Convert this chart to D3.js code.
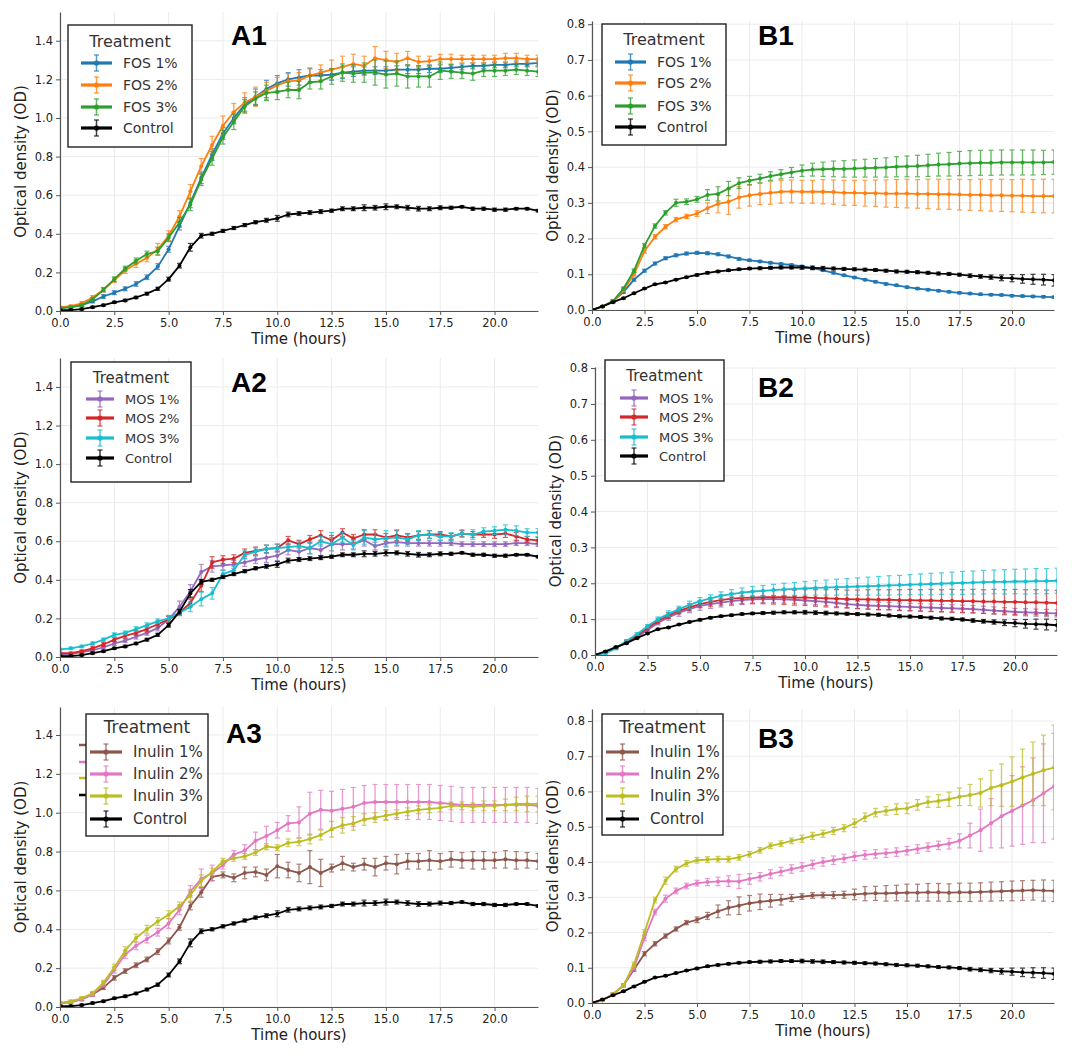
<!DOCTYPE html>
<html>
<head>
<meta charset="utf-8">
<script src="https://cdn.jsdelivr.net/npm/d3@7"></script>
<style>
  body { margin: 0; background: #fff; }
  svg { display: block; }
  text { font-family: "DejaVu Sans", sans-serif; }
</style>
</head>
<body>
<script>
// Growth curves, OD vs time, six panels (A = left column, B = right column)

var hours = [0,0.5,1,1.5,2,2.5,3,3.5,4,4.5,5,5.5,6,6.5,7,7.5,8,8.5,9,9.5,10,10.5,11,11.5,12,12.5,13,13.5,14,14.5,15,15.5,16,16.5,17,17.5,18,18.5,19,19.5,20,20.5,21,21.5,22];
var xTicks = [0, 2.5, 5, 7.5, 10, 12.5, 15, 17.5, 20];
var yTicksA = [0, 0.2, 0.4, 0.6, 0.8, 1.0, 1.2, 1.4];
var yTicksB = [0, 0.1, 0.2, 0.3, 0.4, 0.5, 0.6, 0.7, 0.8];

var fosNames = ["FOS 1%", "FOS 2%", "FOS 3%", "Control"];
var mosNames = ["MOS 1%", "MOS 2%", "MOS 3%", "Control"];
var inuNames = ["Inulin 1%", "Inulin 2%", "Inulin 3%", "Control"];

// ---- column A ----
var controlA = [0.005,0.005,0.01,0.02,0.03,0.045,0.055,0.07,0.09,0.115,
  0.165,0.235,0.33,0.39,0.40,0.415,0.43,0.445,0.46,0.47,
  0.48,0.50,0.505,0.51,0.515,0.52,0.53,0.53,0.535,0.535,
  0.54,0.54,0.535,0.53,0.53,0.535,0.535,0.54,0.53,0.53,
  0.525,0.525,0.53,0.53,0.52];
var controlAErr = [0.004,0.004,0.005,0.005,0.005,0.005,0.006,0.006,0.007,0.008,
  0.01,0.012,0.02,0.012,0.008,0.008,0.008,0.008,0.008,0.01,
  0.015,0.012,0.01,0.01,0.01,0.008,0.01,0.01,0.015,0.012,
  0.015,0.01,0.012,0.012,0.01,0.01,0.008,0.006,0.008,0.008,
  0.008,0.008,0.006,0.006,0.006];

var fos1A = [0.015,0.02,0.03,0.05,0.075,0.095,0.115,0.14,0.175,0.23,
  0.32,0.44,0.56,0.69,0.81,0.92,1.00,1.07,1.11,1.15,
  1.18,1.20,1.21,1.22,1.22,1.225,1.235,1.24,1.245,1.245,
  1.245,1.25,1.25,1.25,1.255,1.255,1.26,1.265,1.27,1.27,
  1.275,1.275,1.28,1.28,1.285];
var fos1AErr = [0.005,0.005,0.006,0.008,0.01,0.01,0.01,0.012,0.012,0.015,
  0.015,0.02,0.025,0.03,0.03,0.03,0.03,0.035,0.04,0.045,
  0.04,0.035,0.04,0.035,0.03,0.03,0.03,0.025,0.02,0.02,
  0.02,0.02,0.02,0.02,0.02,0.02,0.015,0.015,0.015,0.015,
  0.015,0.015,0.015,0.015,0.015];
var fos2A = [0.02,0.025,0.04,0.07,0.11,0.16,0.21,0.245,0.275,0.32,
  0.39,0.49,0.62,0.75,0.86,0.96,1.03,1.08,1.11,1.14,
  1.17,1.19,1.195,1.22,1.235,1.25,1.265,1.28,1.27,1.31,
  1.30,1.29,1.31,1.29,1.295,1.305,1.305,1.305,1.305,1.305,
  1.305,1.31,1.31,1.305,1.305];
var fos2AErr = [0.005,0.006,0.008,0.01,0.012,0.012,0.015,0.02,0.02,0.03,
  0.025,0.03,0.035,0.04,0.045,0.05,0.045,0.05,0.05,0.045,
  0.04,0.04,0.04,0.04,0.04,0.05,0.055,0.05,0.05,0.06,
  0.045,0.045,0.035,0.03,0.025,0.025,0.025,0.02,0.02,0.02,
  0.02,0.025,0.025,0.02,0.02];
var fos3A = [0.015,0.02,0.03,0.06,0.11,0.165,0.22,0.26,0.295,0.31,
  0.38,0.46,0.55,0.68,0.79,0.90,0.98,1.06,1.10,1.13,
  1.135,1.145,1.145,1.185,1.19,1.215,1.235,1.23,1.235,1.235,
  1.225,1.23,1.215,1.215,1.215,1.245,1.24,1.235,1.23,1.245,
  1.245,1.245,1.25,1.245,1.24];
var fos3AErr = [0.005,0.005,0.006,0.008,0.01,0.012,0.012,0.015,0.015,0.02,
  0.02,0.025,0.03,0.03,0.035,0.035,0.04,0.035,0.035,0.04,
  0.04,0.04,0.045,0.035,0.04,0.04,0.045,0.045,0.05,0.065,
  0.07,0.065,0.06,0.055,0.055,0.045,0.035,0.03,0.035,0.03,
  0.03,0.025,0.025,0.025,0.025];

var mos1A = [0.01,0.015,0.025,0.035,0.05,0.07,0.085,0.105,0.125,0.15,
  0.195,0.26,0.34,0.44,0.47,0.475,0.48,0.49,0.505,0.515,
  0.525,0.555,0.545,0.565,0.555,0.585,0.585,0.585,0.605,0.575,
  0.59,0.595,0.59,0.59,0.59,0.59,0.59,0.585,0.585,0.585,
  0.585,0.585,0.59,0.59,0.585];
var mos1AErr = [0.005,0.005,0.006,0.006,0.008,0.01,0.01,0.012,0.012,0.015,
  0.02,0.03,0.035,0.04,0.03,0.025,0.02,0.02,0.02,0.025,
  0.025,0.025,0.03,0.03,0.03,0.035,0.03,0.025,0.03,0.02,
  0.02,0.02,0.015,0.015,0.015,0.015,0.012,0.012,0.012,0.012,
  0.012,0.012,0.012,0.012,0.012];
var mos2A = [0.02,0.02,0.03,0.045,0.065,0.09,0.11,0.125,0.145,0.17,
  0.195,0.23,0.28,0.37,0.49,0.505,0.51,0.54,0.55,0.56,
  0.565,0.605,0.585,0.61,0.63,0.605,0.645,0.615,0.635,0.635,
  0.62,0.63,0.62,0.63,0.635,0.635,0.625,0.64,0.635,0.635,
  0.635,0.64,0.625,0.61,0.605];
var mos2AErr = [0.005,0.005,0.006,0.008,0.01,0.01,0.012,0.012,0.015,0.015,
  0.015,0.015,0.02,0.03,0.03,0.02,0.02,0.02,0.02,0.02,
  0.02,0.02,0.02,0.02,0.025,0.025,0.02,0.02,0.025,0.025,
  0.02,0.025,0.02,0.02,0.02,0.015,0.015,0.015,0.015,0.015,
  0.02,0.02,0.02,0.015,0.015];
var mos3A = [0.04,0.045,0.055,0.07,0.09,0.115,0.125,0.145,0.165,0.185,
  0.2,0.23,0.26,0.30,0.33,0.43,0.45,0.53,0.545,0.56,
  0.565,0.57,0.575,0.565,0.6,0.585,0.62,0.58,0.62,0.61,
  0.615,0.62,0.61,0.63,0.635,0.625,0.625,0.64,0.635,0.65,
  0.655,0.66,0.655,0.645,0.645];
var mos3AErr = [0.005,0.006,0.006,0.008,0.008,0.01,0.01,0.012,0.012,0.012,
  0.015,0.015,0.025,0.035,0.03,0.02,0.02,0.02,0.02,0.02,
  0.02,0.02,0.025,0.03,0.025,0.06,0.025,0.025,0.035,0.03,
  0.04,0.04,0.025,0.025,0.02,0.02,0.02,0.02,0.025,0.02,
  0.02,0.025,0.025,0.02,0.02];

var inu1A = [0.02,0.025,0.04,0.065,0.1,0.15,0.185,0.215,0.245,0.285,
  0.34,0.41,0.52,0.59,0.67,0.68,0.665,0.69,0.695,0.68,
  0.725,0.705,0.69,0.72,0.69,0.715,0.74,0.72,0.735,0.72,
  0.74,0.735,0.75,0.75,0.755,0.75,0.76,0.755,0.755,0.755,
  0.755,0.76,0.755,0.755,0.75];
var inu1AErr = [0.005,0.006,0.008,0.01,0.01,0.012,0.012,0.012,0.012,0.015,
  0.015,0.015,0.02,0.025,0.02,0.015,0.02,0.03,0.025,0.03,
  0.06,0.04,0.045,0.085,0.07,0.02,0.035,0.02,0.03,0.045,
  0.035,0.05,0.04,0.04,0.05,0.04,0.04,0.04,0.045,0.045,
  0.04,0.045,0.045,0.04,0.04];
var inu2A = [0.02,0.025,0.04,0.065,0.115,0.19,0.27,0.315,0.35,0.385,
  0.43,0.5,0.595,0.66,0.69,0.73,0.785,0.805,0.855,0.88,
  0.91,0.945,0.95,0.995,1.015,1.01,1.02,1.03,1.05,1.055,
  1.055,1.055,1.055,1.055,1.055,1.05,1.045,1.04,1.04,1.04,
  1.04,1.04,1.04,1.04,1.035];
var inu2AErr = [0.005,0.006,0.008,0.01,0.012,0.015,0.02,0.02,0.02,0.02,
  0.025,0.025,0.03,0.05,0.04,0.02,0.02,0.03,0.045,0.05,
  0.04,0.04,0.08,0.11,0.1,0.1,0.1,0.1,0.09,0.09,
  0.09,0.09,0.09,0.09,0.09,0.09,0.09,0.09,0.09,0.09,
  0.09,0.09,0.09,0.09,0.09];
var inu3A = [0.02,0.03,0.045,0.07,0.125,0.205,0.29,0.355,0.4,0.44,
  0.475,0.52,0.575,0.65,0.695,0.75,0.765,0.775,0.795,0.825,
  0.82,0.845,0.85,0.865,0.885,0.915,0.935,0.945,0.965,0.975,
  0.985,0.995,1.005,1.015,1.02,1.025,1.035,1.035,1.03,1.035,
  1.035,1.04,1.045,1.045,1.045];
var inu3AErr = [0.005,0.006,0.008,0.01,0.012,0.015,0.02,0.02,0.02,0.02,
  0.02,0.02,0.03,0.03,0.02,0.015,0.015,0.015,0.015,0.015,
  0.015,0.02,0.02,0.025,0.025,0.04,0.04,0.035,0.03,0.025,
  0.025,0.02,0.02,0.02,0.02,0.02,0.02,0.02,0.02,0.025,
  0.025,0.03,0.035,0.04,0.04];

// ---- column B ----
var controlB = [0.0,0.01,0.022,0.033,0.047,0.06,0.072,0.077,0.085,0.092,
  0.098,0.104,0.108,0.111,0.114,0.116,0.117,0.118,0.119,0.119,
  0.119,0.118,0.117,0.116,0.115,0.114,0.113,0.112,0.110,0.108,
  0.107,0.106,0.104,0.102,0.101,0.099,0.096,0.094,0.092,0.090,
  0.089,0.087,0.086,0.085,0.083];
var controlBErr = [0.002,0.002,0.002,0.002,0.002,0.002,0.002,0.002,0.002,0.002,
  0.003,0.003,0.003,0.003,0.003,0.003,0.004,0.004,0.004,0.004,
  0.005,0.005,0.005,0.004,0.004,0.004,0.004,0.004,0.004,0.004,
  0.004,0.004,0.004,0.004,0.004,0.004,0.005,0.005,0.006,0.008,
  0.01,0.012,0.014,0.015,0.016];

var fos1B = [0.0,0.01,0.025,0.05,0.085,0.11,0.13,0.145,0.153,0.158,
  0.16,0.159,0.156,0.15,0.143,0.139,0.136,0.132,0.129,0.126,
  0.122,0.117,0.111,0.104,0.097,0.091,0.085,0.079,0.073,0.069,
  0.064,0.060,0.057,0.054,0.051,0.048,0.046,0.044,0.043,0.042,
  0.040,0.039,0.038,0.037,0.036];
var fos1BErr = [0.002,0.002,0.003,0.003,0.004,0.004,0.004,0.004,0.004,0.004,
  0.004,0.004,0.004,0.004,0.004,0.003,0.003,0.003,0.003,0.003,
  0.003,0.003,0.003,0.003,0.003,0.003,0.003,0.003,0.003,0.003,
  0.003,0.003,0.003,0.003,0.003,0.003,0.003,0.003,0.003,0.003,
  0.003,0.003,0.003,0.003,0.003];
var fos2B = [0.0,0.01,0.025,0.055,0.10,0.165,0.205,0.233,0.253,0.262,
  0.27,0.285,0.297,0.303,0.315,0.321,0.325,0.328,0.331,0.332,
  0.331,0.331,0.331,0.330,0.328,0.328,0.327,0.327,0.326,0.326,
  0.326,0.325,0.325,0.324,0.324,0.323,0.322,0.322,0.321,0.321,
  0.320,0.320,0.319,0.319,0.319];
var fos2BErr = [0.002,0.002,0.003,0.004,0.005,0.006,0.006,0.006,0.006,0.006,
  0.008,0.015,0.025,0.035,0.03,0.03,0.03,0.032,0.032,0.032,
  0.032,0.032,0.034,0.034,0.035,0.035,0.036,0.037,0.038,0.039,
  0.04,0.04,0.041,0.042,0.042,0.043,0.043,0.044,0.044,0.045,
  0.045,0.046,0.046,0.047,0.047];
var fos3B = [0.0,0.01,0.025,0.06,0.11,0.18,0.235,0.272,0.30,0.303,
  0.31,0.322,0.325,0.34,0.355,0.362,0.368,0.375,0.38,0.385,
  0.39,0.393,0.394,0.395,0.395,0.396,0.397,0.398,0.399,0.401,
  0.402,0.403,0.405,0.407,0.408,0.41,0.411,0.412,0.412,0.413,
  0.413,0.413,0.413,0.413,0.414];
var fos3BErr = [0.002,0.002,0.003,0.004,0.005,0.006,0.006,0.006,0.01,0.008,
  0.008,0.015,0.02,0.02,0.015,0.012,0.012,0.012,0.013,0.014,
  0.016,0.018,0.02,0.022,0.023,0.024,0.025,0.026,0.027,0.028,
  0.029,0.03,0.031,0.032,0.033,0.034,0.035,0.035,0.035,0.035,
  0.035,0.035,0.035,0.034,0.034];

var mos1B = [0.0,0.008,0.02,0.035,0.05,0.07,0.09,0.105,0.118,0.128,
  0.137,0.142,0.146,0.15,0.153,0.155,0.156,0.156,0.155,0.154,
  0.152,0.15,0.148,0.145,0.142,0.14,0.138,0.137,0.136,0.135,
  0.134,0.133,0.132,0.131,0.13,0.129,0.128,0.126,0.124,0.122,
  0.12,0.119,0.118,0.117,0.116];
var mos1BErr = [0.002,0.002,0.003,0.003,0.004,0.005,0.006,0.008,0.01,0.01,
  0.012,0.012,0.012,0.012,0.012,0.01,0.01,0.01,0.01,0.01,
  0.01,0.01,0.01,0.01,0.01,0.01,0.01,0.01,0.01,0.01,
  0.01,0.01,0.01,0.01,0.01,0.01,0.01,0.01,0.01,0.01,
  0.01,0.01,0.01,0.01,0.01];
var mos2B = [0.0,0.008,0.02,0.037,0.053,0.075,0.095,0.11,0.123,0.133,
  0.142,0.148,0.153,0.157,0.159,0.16,0.161,0.161,0.161,0.16,
  0.16,0.159,0.158,0.157,0.156,0.155,0.155,0.154,0.154,0.153,
  0.153,0.152,0.152,0.151,0.151,0.150,0.150,0.149,0.149,0.148,
  0.148,0.147,0.147,0.146,0.145];
var mos2BErr = [0.002,0.002,0.003,0.003,0.004,0.005,0.006,0.008,0.008,0.01,
  0.01,0.012,0.014,0.015,0.016,0.017,0.018,0.019,0.02,0.021,
  0.022,0.023,0.024,0.025,0.025,0.026,0.027,0.028,0.028,0.029,
  0.03,0.03,0.031,0.031,0.032,0.032,0.033,0.033,0.034,0.034,
  0.035,0.035,0.035,0.035,0.035];
var mos3B = [0.0,0.005,0.018,0.04,0.058,0.08,0.1,0.115,0.128,0.14,
  0.15,0.158,0.165,0.17,0.174,0.177,0.179,0.181,0.183,0.184,
  0.186,0.187,0.188,0.189,0.19,0.191,0.192,0.193,0.194,0.195,
  0.196,0.197,0.198,0.199,0.2,0.201,0.202,0.203,0.204,0.204,
  0.205,0.205,0.206,0.206,0.207];
var mos3BErr = [0.002,0.002,0.003,0.003,0.004,0.005,0.006,0.008,0.008,0.01,
  0.01,0.01,0.011,0.012,0.013,0.014,0.015,0.016,0.017,0.018,
  0.019,0.02,0.021,0.022,0.023,0.024,0.025,0.026,0.027,0.027,
  0.028,0.029,0.03,0.03,0.031,0.032,0.032,0.033,0.033,0.034,
  0.034,0.035,0.035,0.035,0.035];

var inu1B = [0.0,0.008,0.025,0.05,0.095,0.14,0.168,0.19,0.21,0.228,
  0.236,0.247,0.26,0.27,0.276,0.283,0.287,0.29,0.293,0.298,
  0.302,0.305,0.306,0.306,0.307,0.308,0.31,0.311,0.311,0.312,
  0.313,0.313,0.314,0.314,0.313,0.314,0.314,0.315,0.316,0.317,
  0.318,0.319,0.32,0.319,0.318];
var inu1BErr = [0.002,0.002,0.003,0.004,0.005,0.006,0.006,0.006,0.006,0.006,
  0.008,0.01,0.018,0.02,0.025,0.022,0.022,0.018,0.015,0.01,
  0.008,0.008,0.008,0.01,0.01,0.015,0.02,0.02,0.022,0.022,
  0.024,0.024,0.025,0.025,0.025,0.026,0.026,0.026,0.027,0.027,
  0.028,0.028,0.028,0.03,0.03];
var inu2B = [0.0,0.008,0.025,0.05,0.1,0.185,0.258,0.296,0.318,0.332,
  0.34,0.343,0.345,0.346,0.345,0.352,0.358,0.366,0.373,0.38,
  0.386,0.393,0.4,0.405,0.41,0.416,0.42,0.423,0.425,0.428,
  0.432,0.437,0.442,0.447,0.452,0.46,0.475,0.49,0.51,0.53,
  0.545,0.56,0.575,0.595,0.615];
var inu2BErr = [0.002,0.002,0.003,0.004,0.006,0.008,0.008,0.01,0.008,0.008,
  0.008,0.01,0.012,0.015,0.02,0.015,0.012,0.012,0.012,0.012,
  0.012,0.012,0.012,0.012,0.012,0.012,0.012,0.012,0.012,0.012,
  0.012,0.012,0.012,0.012,0.015,0.02,0.035,0.06,0.07,0.09,
  0.1,0.11,0.12,0.14,0.15];
var inu3B = [0.0,0.008,0.025,0.05,0.11,0.2,0.292,0.347,0.38,0.396,
  0.405,0.407,0.408,0.408,0.413,0.422,0.433,0.446,0.452,0.46,
  0.466,0.474,0.48,0.488,0.496,0.51,0.527,0.54,0.545,0.55,
  0.552,0.562,0.57,0.573,0.578,0.585,0.59,0.596,0.61,0.618,
  0.628,0.64,0.65,0.66,0.668];
var inu3BErr = [0.002,0.002,0.003,0.004,0.006,0.008,0.008,0.01,0.008,0.008,
  0.008,0.008,0.008,0.008,0.008,0.008,0.008,0.008,0.008,0.008,
  0.01,0.01,0.01,0.01,0.01,0.012,0.012,0.012,0.012,0.015,
  0.015,0.015,0.015,0.018,0.02,0.025,0.03,0.04,0.05,0.06,
  0.07,0.08,0.09,0.1,0.12];

// matplotlib tab10 colours
var col = {
  blue: "#1f77b4", orange: "#ff7f0e", green: "#2ca02c", red: "#d62728",
  purple: "#9467bd", brown: "#8c564b", pink: "#e377c2", olive: "#bcbd22",
  cyan: "#17becf", black: "#000000"
};

function series(names, vals, errs, colors){
  return names.map(function(n, i){
    return { name: n, values: vals[i], err: errs[i], color: colors[i] };
  });
}

var panels = [
  { tag: "A1", tagPos: [231, 45], left: 60, right: 538, top: 12, bottom: 311, ymax: 1.549, yTicks: yTicksA,
    legend: { x: 68, y: 25, w: 124, h: 122, ty: 16, rows: [38, 60, 82, 103], hx: [13, 44], tx: 55, fs: 14, tfs: 16 },
    series: series(fosNames, [fos1A, fos2A, fos3A, controlA], [fos1AErr, fos2AErr, fos3AErr, controlAErr],
      [col.blue, col.orange, col.green, col.black]) },
  { tag: "B1", tagPos: [758, 45], left: 592, right: 1054, top: 21, bottom: 310, ymax: 0.809, yTicks: yTicksB,
    legend: { x: 602, y: 24, w: 124, h: 121, ty: 15, rows: [38, 59, 82, 103], hx: [13, 44], tx: 55, fs: 14, tfs: 16 },
    series: series(fosNames, [fos1B, fos2B, fos3B, controlB], [fos1BErr, fos2BErr, fos3BErr, controlBErr],
      [col.blue, col.orange, col.green, col.black]) },
  { tag: "A2", tagPos: [231, 392], left: 60, right: 538, top: 358, bottom: 657, ymax: 1.55, yTicks: yTicksA,
    legend: { x: 71, y: 362, w: 120, h: 120, ty: 16, rows: [37, 56, 76, 96], hx: [15, 43], tx: 54, fs: 13, tfs: 15 },
    series: series(mosNames, [mos1A, mos2A, mos3A, controlA], [mos1AErr, mos2AErr, mos3AErr, controlAErr],
      [col.purple, col.red, col.cyan, col.black]) },
  { tag: "B2", tagPos: [758, 397], left: 595, right: 1057, top: 367, bottom: 655, ymax: 0.803, yTicks: yTicksB,
    legend: { x: 605, y: 360, w: 119, h: 121, ty: 16, rows: [38, 57, 77, 96], hx: [15, 43], tx: 54, fs: 13, tfs: 15 },
    series: series(mosNames, [mos1B, mos2B, mos3B, controlB], [mos1BErr, mos2BErr, mos3BErr, controlBErr],
      [col.purple, col.red, col.cyan, col.black]) },
  { tag: "A3", tagPos: [226, 743], left: 60, right: 538, top: 707, bottom: 1007, ymax: 1.544, yTicks: yTicksA,
    ghost: { x: [79, 88], ys: [745, 762, 778, 795] },
    legend: { x: 86, y: 714, w: 122, h: 122, ty: 13, rows: [38, 60, 82, 105], hx: [4, 36], tx: 47, fs: 15, tfs: 17 },
    series: series(inuNames, [inu1A, inu2A, inu3A, controlA], [inu1AErr, inu2AErr, inu3AErr, controlAErr],
      [col.brown, col.pink, col.olive, col.black]) },
  { tag: "B3", tagPos: [758, 748], left: 592, right: 1054, top: 709, bottom: 1003, ymax: 0.834, yTicks: yTicksB,
    legend: { x: 602, y: 714, w: 121, h: 121, ty: 13, rows: [38, 60, 82, 105], hx: [4, 37], tx: 48, fs: 15, tfs: 17 },
    series: series(inuNames, [inu1B, inu2B, inu3B, controlB], [inu1BErr, inu2BErr, inu3BErr, controlBErr],
      [col.brown, col.pink, col.olive, col.black]) }
];

var svg = d3.select("body").append("svg")
  .attr("width", 1072)
  .attr("height", 1055);

var fmt = d3.format(".1f");
var axisColor = "#555";
var textColor = "#222";

panels.forEach(function(p, pi){
  var g = svg.append("g").attr("class", "panel");

  var x = d3.scaleLinear().domain([0, 22]).range([p.left, p.right]);
  var y = d3.scaleLinear().domain([0, p.ymax]).range([p.bottom, p.top]);

  // grid
  g.selectAll(".gx").data(xTicks).enter().append("line")
    .attr("x1", function(d){ return x(d); }).attr("x2", function(d){ return x(d); })
    .attr("y1", p.top).attr("y2", p.bottom)
    .style("stroke", "#ebebeb").style("stroke-width", 1);
  g.selectAll(".gy").data(p.yTicks).enter().append("line")
    .attr("x1", p.left).attr("x2", p.right)
    .attr("y1", function(d){ return y(d); }).attr("y2", function(d){ return y(d); })
    .style("stroke", "#ebebeb").style("stroke-width", 1);

  // clip to the axes area
  var clipId = "clip" + pi;
  svg.append("clipPath").attr("id", clipId).append("rect")
    .attr("x", p.left).attr("y", p.top)
    .attr("width", p.right - p.left).attr("height", p.bottom - p.top);

  var plot = g.append("g").attr("clip-path", "url(#" + clipId + ")");

  var line = d3.line()
    .x(function(d, i){ return x(hours[i]); })
    .y(function(d){ return y(d); });

  p.series.forEach(function(s){
    var sg = plot.append("g");
    sg.append("path")
      .datum(s.values)
      .attr("d", line)
      .style("fill", "none")
      .style("stroke", s.color)
      .style("stroke-width", 1.8)
      .style("stroke-linejoin", "round");

    var eb = sg.append("g").style("opacity", 0.75);
    eb.selectAll(".eb").data(s.values).enter().append("line")
      .attr("x1", function(d, i){ return x(hours[i]); })
      .attr("x2", function(d, i){ return x(hours[i]); })
      .attr("y1", function(d, i){ return y(d - s.err[i]); })
      .attr("y2", function(d, i){ return y(d + s.err[i]); })
      .style("stroke", s.color).style("stroke-width", 1.3);
    eb.selectAll(".capT").data(s.values).enter().append("line")
      .attr("x1", function(d, i){ return x(hours[i]) - 2.5; })
      .attr("x2", function(d, i){ return x(hours[i]) + 2.5; })
      .attr("y1", function(d, i){ return y(d + s.err[i]); })
      .attr("y2", function(d, i){ return y(d + s.err[i]); })
      .style("stroke", s.color).style("stroke-width", 1.2);
    eb.selectAll(".capB").data(s.values).enter().append("line")
      .attr("x1", function(d, i){ return x(hours[i]) - 2.5; })
      .attr("x2", function(d, i){ return x(hours[i]) + 2.5; })
      .attr("y1", function(d, i){ return y(d - s.err[i]); })
      .attr("y2", function(d, i){ return y(d - s.err[i]); })
      .style("stroke", s.color).style("stroke-width", 1.2);

    sg.selectAll(".pt").data(s.values).enter().append("circle")
      .attr("cx", function(d, i){ return x(hours[i]); })
      .attr("cy", function(d){ return y(d); })
      .attr("r", 2)
      .style("fill", s.color);
  });

  // axes (left and bottom spines only)
  var xAxis = d3.axisBottom(x).tickValues(xTicks).tickFormat(fmt)
    .tickSize(4).tickSizeOuter(0).tickPadding(4);
  var gx = g.append("g").attr("transform", "translate(0," + p.bottom + ")").call(xAxis);
  var yAxis = d3.axisLeft(y).tickValues(p.yTicks).tickFormat(fmt)
    .tickSize(4).tickSizeOuter(0).tickPadding(3);
  var gy = g.append("g").attr("transform", "translate(" + p.left + ",0)").call(yAxis);
  [gx, gy].forEach(function(a){
    a.select(".domain").style("stroke", axisColor).style("stroke-width", 1.2);
    a.selectAll(".tick line").style("stroke", axisColor).style("stroke-width", 1);
    a.selectAll(".tick text").style("font-size", "11.5px").style("fill", textColor)
      .style("font-family", "DejaVu Sans");
  });

  // axis titles
  g.append("text")
    .attr("x", (p.left + p.right) / 2)
    .attr("y", p.bottom + 33)
    .attr("text-anchor", "middle")
    .style("font-size", "15px").style("fill", textColor)
    .text("Time (hours)");
  g.append("text")
    .attr("transform", "translate(" + (p.left - 39) + "," + ((p.top + p.bottom) / 2) + ") rotate(-90)")
    .attr("text-anchor", "middle")
    .attr("dominant-baseline", "central")
    .style("font-size", "15px").style("fill", textColor)
    .text("Optical density (OD)");

  // stray legend stubs peeking out from behind the box (A3)
  if (p.ghost) {
    g.selectAll(".ghost").data(p.series).enter().append("line")
      .attr("x1", p.ghost.x[0]).attr("x2", p.ghost.x[1])
      .attr("y1", function(d, i){ return p.ghost.ys[i]; })
      .attr("y2", function(d, i){ return p.ghost.ys[i]; })
      .style("stroke", function(d){ return d.color; })
      .style("stroke-width", 2.5);
  }

  // legend
  var L = p.legend;
  var lg = g.append("g").attr("transform", "translate(" + L.x + "," + L.y + ")");
  lg.append("rect")
    .attr("width", L.w).attr("height", L.h)
    .style("fill", "#fff").style("stroke", "#222").style("stroke-width", 1.4);
  lg.append("text")
    .attr("x", L.w / 2).attr("y", L.ty)
    .attr("text-anchor", "middle").attr("dominant-baseline", "central")
    .style("font-size", L.tfs + "px").style("fill", "#333")
    .text("Treatment");
  var items = lg.selectAll(".item").data(p.series).enter().append("g")
    .attr("transform", function(d, i){ return "translate(0," + L.rows[i] + ")"; });
  var mid = (L.hx[0] + L.hx[1]) / 2;
  items.append("line")
    .attr("x1", L.hx[0]).attr("x2", L.hx[1])
    .style("stroke", function(d){ return d.color; }).style("stroke-width", 3.2);
  items.append("line")
    .attr("x1", mid).attr("x2", mid).attr("y1", -8).attr("y2", 8)
    .style("stroke", function(d){ return d.color; }).style("stroke-width", 1.5).style("opacity", 0.75);
  items.append("line")
    .attr("x1", mid - 2.5).attr("x2", mid + 2.5).attr("y1", -8).attr("y2", -8)
    .style("stroke", function(d){ return d.color; }).style("stroke-width", 1.3).style("opacity", 0.75);
  items.append("line")
    .attr("x1", mid - 2.5).attr("x2", mid + 2.5).attr("y1", 8).attr("y2", 8)
    .style("stroke", function(d){ return d.color; }).style("stroke-width", 1.3).style("opacity", 0.75);
  items.append("circle")
    .attr("cx", mid).attr("r", 2.6)
    .style("fill", function(d){ return d.color; });
  items.append("text")
    .attr("x", L.tx)
    .attr("dominant-baseline", "central")
    .style("font-size", L.fs + "px").style("fill", "#333")
    .text(function(d){ return d.name; });

  // panel tag
  g.append("text")
    .attr("x", p.tagPos[0]).attr("y", p.tagPos[1])
    .style("font-family", "Liberation Sans, Arial, sans-serif")
    .style("font-weight", "bold").style("font-size", "28px").style("fill", "#000")
    .text(p.tag);
});
</script>
</body>
</html>
